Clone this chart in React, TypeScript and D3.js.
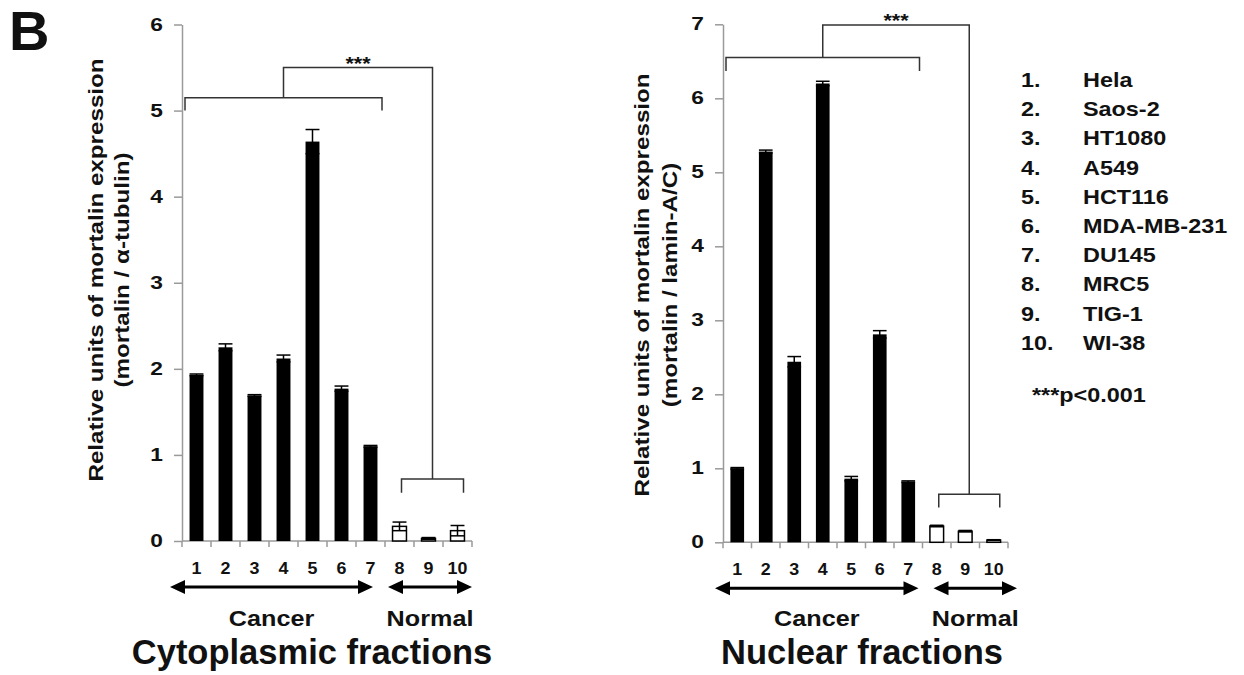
import React, { useRef, useEffect } from "react";
import * as d3 from "d3";

// lanes and cell lines
const laneLabels = ["1", "2", "3", "4", "5", "6", "7", "8", "9", "10"];
const cellLines = ["Hela", "Saos-2", "HT1080", "A549", "HCT116", "MDA-MB-231", "DU145", "MRC5", "TIG-1", "WI-38"];
const groupNames = ["Cancer", "Normal"];
const groupSizes = [7, 3];

// cytoplasmic fractions (mortalin / alpha-tubulin)
const cytoValues = [1.93, 2.25, 1.69, 2.12, 4.64, 1.77, 1.1, 0.17, 0.03, 0.12];
const cytoErrors = [0.01, 0.04, 0.01, 0.04, 0.14, 0.03, 0.01, 0.05, 0.01, 0.06];

// nuclear fractions (mortalin / lamin-A/C)
const nucValues = [1.0, 5.28, 2.44, 6.2, 0.86, 2.81, 0.82, 0.22, 0.15, 0.03];
const nucErrors = [0.01, 0.02, 0.07, 0.03, 0.03, 0.05, 0.01, 0.01, 0.01, 0.005];

const FONT = "'Liberation Sans', Arial, Helvetica, sans-serif";
const INK = "#111";

const panels = [
  {
    values: cytoValues,
    errors: cytoErrors,
    yMax: 6,
    yLabel: ["Relative units of mortalin expression", "(mortalin / \u03b1-tubulin)"],
    title: "Cytoplasmic fractions",
    x0: 182, x1: 472, yTop: 24.5, yBottom: 541,
    labelX: [102.5, 128.5], labelY: 270,
    titleX: 312,
    bracket: { cancer: 5.15, cancerLeg: 5.0, top: 5.5, normal: 0.72, normalLeg: 0.56 },
    arrowPad: [[-12, -12], [3, 0]],
  },
  {
    values: nucValues,
    errors: nucErrors,
    yMax: 7,
    yLabel: ["Relative units of mortalin expression", "(mortalin / lamin-A/C)"],
    title: "Nuclear fractions",
    x0: 723, x1: 1008, yTop: 24.3, yBottom: 542.3,
    labelX: [648.5, 676.5], labelY: 285,
    titleX: 862,
    bracket: { cancer: 6.55, cancerLeg: 6.37, top: 6.99, normal: 0.65, normalLeg: 0.47 },
    arrowPad: [[-8, -4], [11, 9]],
  },
];

const addText = (g, str, x, y, size, sx = 1, anchor = "middle", rot = 0) =>
  g
    .append("text")
    .attr("transform", `translate(${x},${y}) rotate(${rot}) scale(${sx},1)`)
    .attr("text-anchor", anchor)
    .attr("font-family", FONT)
    .attr("font-weight", "bold")
    .attr("font-size", size)
    .attr("fill", INK)
    .text(str);

const drawPanel = (svg, p) => {
  const x = d3
    .scaleBand()
    .domain(laneLabels)
    .range([p.x0, p.x1])
    .paddingInner(0.52)
    .paddingOuter(0.26);
  const step = x.step();
  const edge = (i) => p.x0 + step * i;
  const cx = (i) => x(laneLabels[i]) + x.bandwidth() / 2;
  const y = d3.scaleLinear().domain([0, p.yMax]).range([p.yBottom, p.yTop]);

  const g = svg.append("g");

  // y axis
  const yAxis = g
    .append("g")
    .attr("transform", `translate(${p.x0},0)`)
    .call(
      d3
        .axisLeft(y)
        .tickValues(d3.range(0, p.yMax + 1))
        .tickFormat(d3.format("d"))
        .tickSize(8)
        .tickSizeOuter(0)
    );
  yAxis.selectAll("path, line").attr("stroke", "#9a9a9a").attr("stroke-width", 1.5);
  yAxis
    .selectAll("text")
    .attr("x", null)
    .attr("transform", "translate(-19,0) scale(1.3,1)")
    .attr("font-family", FONT)
    .attr("font-weight", "bold")
    .attr("font-size", 17.5)
    .attr("fill", INK);

  // x axis with ticks between lanes
  g.append("line")
    .attr("x1", p.x0).attr("x2", p.x1)
    .attr("y1", p.yBottom).attr("y2", p.yBottom)
    .attr("stroke", "#9a9a9a").attr("stroke-width", 1.5);
  g.selectAll(".xt")
    .data(d3.range(0, laneLabels.length + 1))
    .enter()
    .append("line")
    .attr("x1", (i) => edge(i)).attr("x2", (i) => edge(i))
    .attr("y1", p.yBottom).attr("y2", p.yBottom + 6)
    .attr("stroke", "#9a9a9a").attr("stroke-width", 1.5);

  laneLabels.forEach((l, i) => addText(g, l, cx(i), p.yBottom + 33, 17, 1.05));

  // bars
  g.selectAll(".bar")
    .data(p.values)
    .enter()
    .append("rect")
    .attr("x", (d, i) => x(laneLabels[i]))
    .attr("y", (d) => y(d))
    .attr("width", x.bandwidth())
    .attr("height", (d) => p.yBottom - y(d))
    .attr("fill", (d, i) => (i < groupSizes[0] ? "#000" : "#fff"))
    .attr("stroke", "#000")
    .attr("stroke-width", (d, i) => (i < groupSizes[0] ? 0 : 1.5));

  // error bars
  const bw = x.bandwidth();
  p.values.forEach((v, i) => {
    const e = p.errors[i];
    const c = cx(i);
    const eg = g.append("g").attr("stroke", "#000").attr("stroke-width", 1.5);
    eg.append("line").attr("x1", c).attr("x2", c).attr("y1", y(v - e)).attr("y2", y(v + e));
    eg.append("line").attr("x1", c - bw / 2).attr("x2", c + bw / 2).attr("y1", y(v + e)).attr("y2", y(v + e));
    eg.append("line").attr("x1", c - bw / 2).attr("x2", c + bw / 2).attr("y1", y(v - e)).attr("y2", y(v - e));
  });

  // significance brackets
  const b = p.bracket;
  const cL = edge(0) + 3;
  const cR = edge(groupSizes[0]) - 3;
  const nL = cx(groupSizes[0]) + 2;
  const nR = cx(laneLabels.length - 1) + 6;
  const cMid = (cL + cR) / 2;
  const nMid = (nL + nR) / 2;
  const bracketPath = d3.path();
  bracketPath.moveTo(cL, y(b.cancerLeg));
  bracketPath.lineTo(cL, y(b.cancer));
  bracketPath.lineTo(cR, y(b.cancer));
  bracketPath.lineTo(cR, y(b.cancerLeg));
  bracketPath.moveTo(nL, y(b.normalLeg));
  bracketPath.lineTo(nL, y(b.normal));
  bracketPath.lineTo(nR, y(b.normal));
  bracketPath.lineTo(nR, y(b.normalLeg));
  bracketPath.moveTo(cMid, y(b.cancer));
  bracketPath.lineTo(cMid, y(b.top));
  bracketPath.lineTo(nMid, y(b.top));
  bracketPath.lineTo(nMid, y(b.normal));
  g.append("path")
    .attr("d", bracketPath.toString())
    .attr("fill", "none")
    .attr("stroke", "#333")
    .attr("stroke-width", 1.5);
  addText(g, "***", (cMid + nMid) / 2, y(b.top) + 2, 18, 1.2);

  // group arrows
  const ay = p.yBottom + 46;
  let start = 0;
  groupNames.forEach((name, gi) => {
    const a0 = edge(start) + p.arrowPad[gi][0];
    const a1 = edge(start + groupSizes[gi]) + p.arrowPad[gi][1];
    start += groupSizes[gi];
    const head = 15;
    g.append("line")
      .attr("x1", a0 + head - 2).attr("x2", a1 - head + 2)
      .attr("y1", ay).attr("y2", ay)
      .attr("stroke", "#000").attr("stroke-width", 3);
    g.append("path")
      .attr("d", `M${a0},${ay}L${a0 + head},${ay - 7}L${a0 + head},${ay + 7}Z`)
      .attr("fill", "#000");
    g.append("path")
      .attr("d", `M${a1},${ay}L${a1 - head},${ay - 7}L${a1 - head},${ay + 7}Z`)
      .attr("fill", "#000");
    addText(g, name, (a0 + a1) / 2, 626, 22.5, 1.12);
  });

  // y label and title
  addText(g, p.yLabel[0], p.labelX[0], p.labelY, 20.5, 1.18, "middle", -90);
  addText(g, p.yLabel[1], p.labelX[1], p.labelY, 20.5, 1.18, "middle", -90);
  addText(g, p.title, p.titleX, 664, 34.5);
};

const MortalinChart = () => {
  const ref = useRef(null);

  useEffect(() => {
    const svg = d3.select(ref.current);
    svg.selectAll("*").remove();

    svg.append("rect").attr("width", 1244).attr("height", 675).attr("fill", "#fff");
    addText(svg, "B", 9, 50, 56, 1, "start");

    panels.forEach((p) => drawPanel(svg, p));

    // legend of cell lines
    const legend = svg.append("g");
    cellLines.forEach((name, i) => {
      const ly = 87 + i * 29.2;
      addText(legend, `${laneLabels[i]}.`, 1021, ly, 19.5, 1.2, "start");
      addText(legend, name, 1083, ly, 19.5, 1.2, "start");
    });
    addText(legend, "***p<0.001", 1032, 402, 19.5, 1.2, "start");
  }, []);

  return (
    <svg
      ref={ref}
      width={1244}
      height={675}
      style={{ position: "absolute", left: 0, top: 0 }}
    />
  );
};

export default function App() {
  return <MortalinChart />;
}
